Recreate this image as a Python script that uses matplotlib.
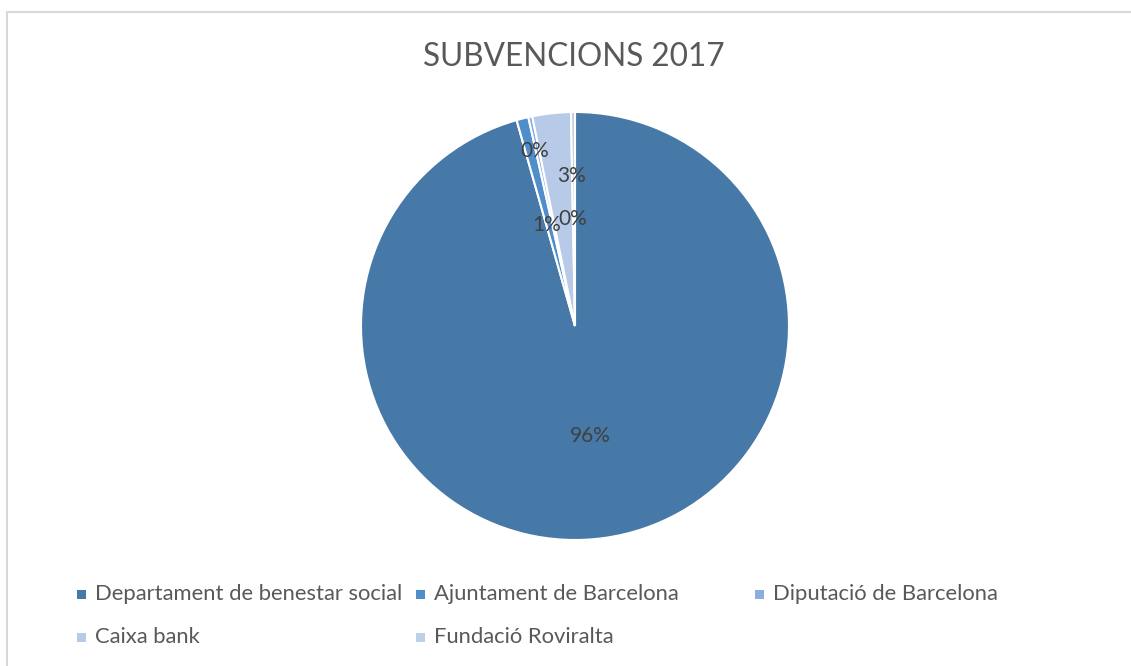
import numpy as np
import matplotlib.pyplot as plt
from matplotlib.patches import Rectangle

# data (percent share of total subsidies)
categories = ['Departament de benestar social', 'Ajuntament de Barcelona',
              'Diputació de Barcelona', 'Caixa bank', 'Fundació Roviralta']
shares = [95.6, 0.9, 0.3, 2.9, 0.3]
colors = ['#4679A8', '#4F8ECB', '#8AAEDD', '#B7CBE8', '#BDD0EA']

# label positions as (radius fraction, degrees clockwise from top),
# nudged like the original so the small labels don't sit on top of each other
label_pos = [(0.52, 172), (0.49, -15.5), (0.84, -12.8), (0.70, -1.5), (0.50, -1.0)]

W, H = 1131, 666
fig = plt.figure(figsize=(W / 100, H / 100), dpi=100)
plt.rcParams['font.family'] = ['Lato', 'DejaVu Sans']
TXT = '#595959'

# light grey chart frame (runs off the right/bottom edge)
fig.add_artist(Rectangle((7 / W, -0.1), 1.2, (H - 12) / H + 0.1,
                         transform=fig.transFigure, fill=False,
                         edgecolor='#D9D9D9', linewidth=1.5))

cx, cy, r = 575, H - 326, 214
ax = fig.add_axes([(cx - r) / W, (cy - r) / H, 2 * r / W, 2 * r / H])
wedges, texts, autotexts = ax.pie(
    shares, colors=colors, startangle=90, counterclock=False,
    autopct='%1.0f%%', radius=1,
    wedgeprops=dict(edgecolor='white', linewidth=1.5),
    textprops=dict(color='#404040', fontsize=15))
ax.set_xlim(-1, 1)
ax.set_ylim(-1, 1)
ax.set_aspect('equal')

for t, (rad, ang) in zip(autotexts, label_pos):
    a = np.deg2rad(ang)
    t.set_position((rad * np.sin(a), rad * np.cos(a)))

fig.text(574 / W, 1 - 57 / H, 'SUBVENCIONS 2017', ha='center', va='center',
         fontsize=22.7, color=TXT)

# legend, laid out in three equal columns like the original
cols_x = [77, 416, 755]
rows_y = [594, 637]
for i, (name, w) in enumerate(zip(categories, wedges)):
    x = cols_x[i % 3]
    y = rows_y[i // 3]
    s = 9
    fig.add_artist(Rectangle((x / W, (H - y - s / 2) / H), s / W, s / H,
                             transform=fig.transFigure,
                             facecolor=w.get_facecolor(), edgecolor='none'))
    fig.text((x + 18) / W, 1 - y / H, name, ha='left', va='center',
             fontsize=15.8, color=TXT)

fig.savefig('out.png', dpi=100, facecolor='white')
